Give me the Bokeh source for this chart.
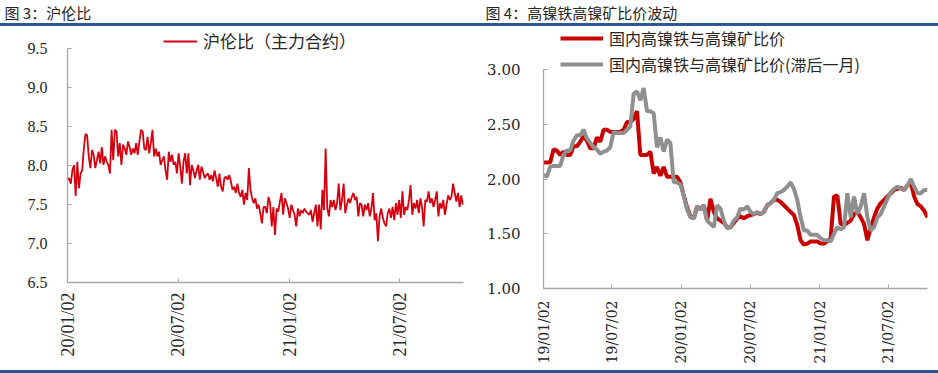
import pandas as pd
from bokeh.plotting import figure
from bokeh.layouts import column, row
from bokeh.models import (Legend, LegendItem, FixedTicker, DatetimeTickFormatter,
                          NumeralTickFormatter, Label, Range1d, Spacer)
from bokeh.embed import file_html
from bokeh.resources import INLINE

# ---------------- data ----------------
left_title = "图 3：沪伦比"
right_title = "图 4：高镍铁高镍矿比价波动"
left_series_name = "沪伦比（主力合约）"
right_series_names = ["国内高镍铁与高镍矿比价", "国内高镍铁与高镍矿比价(滞后一月)"]

left_start, left_end = "2020-01-02", "2021-10-14"
left_axis_start, left_axis_end = "2020-01-02", "2021-10-15"
left_ticks = ["2020-01-02", "2020-07-02", "2021-01-02", "2021-07-02"]
left_y_ticks = [6.5, 7.0, 7.5, 8.0, 8.5, 9.0, 9.5]

shfe_lme_ratio = [
    7.82, 7.84, 7.77, 7.94, 8.01, 7.61, 8.05, 7.71, 7.90, 7.94, 8.22, 8.41, 8.39, 8.12, 7.97,
    8.20, 8.14, 7.97, 8.07, 8.18, 8.03, 8.24, 8.01, 8.12, 8.05, 8.01, 7.90, 8.46, 8.07, 8.46,
    8.44, 8.12, 8.29, 8.01, 8.27, 8.22, 8.14, 8.31, 8.24, 8.14, 8.22, 8.16, 8.29, 8.14, 8.31,
    8.46, 8.44, 8.22, 8.20, 8.37, 8.16, 8.29, 8.46, 8.12, 8.22, 8.12, 8.18, 8.01, 8.07, 8.12,
    7.94, 7.82, 8.18, 8.05, 8.14, 8.01, 8.05, 7.90, 8.16, 7.99, 7.77, 8.05, 8.16, 7.90, 8.16,
    7.75, 8.01, 7.94, 7.84, 7.94, 8.01, 7.82, 7.99, 7.92, 7.84, 7.88, 7.90, 7.82, 7.88, 7.80,
    7.94, 7.84, 7.73, 7.90, 7.73, 7.67, 7.84, 7.86, 7.82, 7.88, 7.80, 7.69, 7.73, 7.65, 7.77,
    7.65, 7.60, 7.69, 7.50, 7.65, 7.56, 7.97, 7.69, 7.58, 7.52, 7.58, 7.45, 7.50, 7.39, 7.26,
    7.47,
    7.47, 7.39, 7.60, 7.52, 7.22, 7.47, 7.11, 7.45, 7.41, 7.54, 7.65, 7.37, 7.58, 7.52, 7.45,
    7.33, 7.50, 7.43, 7.37, 7.22, 7.45, 7.35, 7.43, 7.39, 7.45, 7.41, 7.39, 7.37, 7.43, 7.28,
    7.39, 7.50, 7.22, 7.50, 7.18, 7.69, 7.43, 8.22, 7.45, 7.35, 7.56, 7.47, 7.56, 7.43, 7.52,
    7.77, 7.43, 7.56, 7.77, 7.39, 7.50, 7.58, 7.52, 7.60, 7.65, 7.56, 7.60, 7.35, 7.52, 7.50,
    7.35, 7.50, 7.43, 7.52, 7.35, 7.45, 7.65, 7.30, 7.39, 7.03, 7.35, 7.45, 7.33, 7.26, 7.22,
    7.39, 7.45, 7.33, 7.47, 7.30, 7.52, 7.37, 7.56, 7.33, 7.67, 7.37, 7.47, 7.43, 7.56, 7.75,
    7.37, 7.52, 7.45, 7.56, 7.39, 7.58, 7.47, 7.22, 7.56, 7.54, 7.67, 7.52, 7.58, 7.47, 7.56,
    7.67, 7.35, 7.52, 7.45, 7.56, 7.37, 7.50, 7.62, 7.56, 7.60, 7.77, 7.65, 7.54, 7.65, 7.47,
    7.62, 7.50,
]

right_start, right_end = "2019-01-02", "2021-10-14"
right_axis_start, right_axis_end = "2019-01-02", "2021-10-14"
right_ticks = ["2019-01-02", "2019-07-02", "2020-01-02", "2020-07-02", "2021-01-02", "2021-07-02"]
right_y_ticks = [1.0, 1.5, 2.0, 2.5, 3.0]

npi_ore_ratio = [
    2.15, 2.15, 2.15, 2.27, 2.26, 2.22, 2.25, 2.22, 2.22, 2.30,
    2.30, 2.34, 2.39, 2.35, 2.28, 2.28, 2.38, 2.34, 2.45, 2.45,
    2.43, 2.43, 2.43, 2.43, 2.45, 2.52, 2.52, 2.55, 2.62, 2.22,
    2.22, 2.22, 2.25, 2.05, 2.11, 2.03, 2.11, 2.02, 2.02, 2.02,
    2.02, 1.97, 1.85, 1.74, 1.66, 1.64, 1.75, 1.72, 1.76, 1.62,
    1.82, 1.70, 1.64, 1.62, 1.60, 1.56, 1.56, 1.60, 1.64, 1.66,
    1.64, 1.66, 1.67, 1.68, 1.69, 1.68, 1.70, 1.76, 1.78, 1.81,
    1.81, 1.79, 1.76, 1.73, 1.70, 1.67, 1.58, 1.44, 1.40,
    1.41, 1.43, 1.43, 1.43, 1.41, 1.41, 1.43, 1.46, 1.84, 1.85,
    1.59, 1.58, 1.60, 1.62, 1.68, 1.70, 1.65, 1.59, 1.44, 1.56,
    1.65, 1.73, 1.78, 1.81, 1.84, 1.87, 1.90, 1.91, 1.92, 1.90,
    1.94, 1.97, 1.84, 1.77, 1.75, 1.71, 1.65,
]
npi_ore_ratio_lag = [
    2.04, 2.02, 2.11, 2.12, 2.12, 2.12, 2.22, 2.26, 2.26, 2.35,
    2.40, 2.40, 2.45, 2.37, 2.33, 2.29, 2.27, 2.23, 2.25, 2.26,
    2.29, 2.43, 2.42, 2.42, 2.42, 2.45, 2.48, 2.78, 2.80, 2.72,
    2.83, 2.62, 2.62, 2.60, 2.29, 2.38, 2.25, 2.36, 2.33, 1.97,
    1.97, 1.95, 1.85, 1.72, 1.65, 1.64, 1.75, 1.72, 1.76, 1.62,
    1.59, 1.56, 1.76, 1.73, 1.62, 1.55, 1.56, 1.62, 1.65, 1.73,
    1.72, 1.75, 1.70, 1.68, 1.70, 1.68, 1.70, 1.76, 1.78, 1.81,
    1.87, 1.88, 1.90, 1.93, 1.97, 1.91, 1.81, 1.65, 1.53,
    1.53, 1.49, 1.49, 1.49, 1.46, 1.44, 1.44, 1.43, 1.50, 1.56,
    1.54, 1.56, 1.87, 1.65, 1.84, 1.68, 1.75, 1.87, 1.65, 1.53,
    1.56, 1.65, 1.68, 1.75, 1.82, 1.88, 1.91, 1.93, 1.91, 1.90,
    1.94, 2.00, 1.93, 1.87, 1.87, 1.90, 1.90,
]

# ---------------- style ----------------
BLUE = "#2f5597"
RED_L = "#d7000f"
RED_R = "#c80000"
GRAY = "#8f8f8f"
AXIS = "#a6a6a6"
TXT = "#262626"
CJK = "Noto Sans CJK SC"

W_L, W_R = 470, 468
H_TITLE, H_RULE, H_PLOT = 23, 3, 344
FMT = "%y/%m/%d"


def ms(d):
    return pd.Timestamp(d).value / 1e6


def title_fig(w, text, x):
    t = figure(width=w, height=H_TITLE, x_axis_type=None, y_axis_type=None, title=None,
               x_range=Range1d(0, 1), y_range=Range1d(0, 1), min_border=0,
               output_backend="svg", toolbar_location=None)
    t.outline_line_color = None
    t.grid.visible = False
    t.add_layout(Label(x=x, y=11.5, x_units="screen", y_units="screen", text=text,
                       text_font=CJK, text_font_size="15px", text_color=TXT,
                       text_baseline="middle"))
    return t


def rule(w):
    return Spacer(width=w, height=H_RULE, styles={"background-color": BLUE})


def plot_fig(w, xs, xe, ys, ye, bounds, mbl, mbr, mbb):
    p = figure(width=w, height=H_PLOT, x_axis_type="datetime", title=None,
               x_range=Range1d(pd.Timestamp(xs), pd.Timestamp(xe)),
               y_range=Range1d(ys, ye),
               min_border_left=mbl, min_border_right=mbr,
               min_border_top=0, min_border_bottom=mbb,
               output_backend="svg", toolbar_location=None)
    p.frame_align = False
    p.outline_line_color = None
    p.grid.visible = False
    for ax in (p.xaxis[0], p.yaxis[0]):
        ax.axis_line_color = AXIS
        ax.axis_line_width = 1.3
        ax.major_tick_line_color = AXIS
        ax.major_tick_in = 4
        ax.major_tick_out = 0
        ax.minor_tick_line_color = None
        ax.major_label_text_color = TXT
    p.yaxis.bounds = bounds
    p.xaxis.formatter = DatetimeTickFormatter(
        days=FMT, months=FMT, years=FMT, hours=FMT, hourmin=FMT, minutes=FMT,
        minsec=FMT, seconds=FMT, milliseconds=FMT, microseconds=FMT)
    p.xaxis.major_label_orientation = 1.5708
    return p


def make_legend(items, loc, glyph_w, spacing, size):
    return Legend(items=items, location=loc, border_line_color=None,
                  background_fill_alpha=0, padding=0, margin=0, spacing=spacing,
                  glyph_width=glyph_w, glyph_height=24, label_height=24,
                  label_standoff=6, label_text_font=CJK, label_text_font_size=size,
                  label_text_color=TXT)


# ---------------- left chart ----------------
pL = plot_fig(W_L, left_axis_start, left_axis_end, 6.5, 9.788, (6.5, 9.5), 67, 7, 88)
xL = pd.date_range(left_start, left_end, periods=len(shfe_lme_ratio))
rL = pL.line(xL, shfe_lme_ratio, line_color=RED_L, line_width=1.8)
pL.xaxis.ticker = FixedTicker(ticks=[ms(d) for d in left_ticks])
pL.xaxis.major_label_text_font = "Liberation Serif"
pL.xaxis.major_label_text_font_size = "18px"
pL.xaxis.major_label_standoff = 10
pL.yaxis.ticker = FixedTicker(ticks=left_y_ticks)
pL.yaxis.formatter = NumeralTickFormatter(format="0.0")
pL.yaxis.major_label_text_font = "Liberation Serif"
pL.yaxis.major_label_text_font_size = "16px"
pL.yaxis.major_label_standoff = 20
pL.add_layout(make_legend([LegendItem(label=left_series_name, renderers=[rL])],
                          (96, 229), 34, 0, "17px"))

# ---------------- right chart ----------------
pR = plot_fig(W_R, right_axis_start, right_axis_end, 1.0, 3.393, (1.0, 3.0), 73, 11, 82)
xR = pd.date_range(right_start, right_end, periods=len(npi_ore_ratio))
r1 = pR.line(xR, npi_ore_ratio, line_color=RED_R, line_width=4)
r2 = pR.line(xR, npi_ore_ratio_lag, line_color=GRAY, line_width=4)
pR.xaxis.ticker = FixedTicker(ticks=[ms(d) for d in right_ticks])
pR.xaxis.major_label_text_font = "DejaVu Serif"
pR.xaxis.major_label_text_font_size = "14px"
pR.xaxis.major_label_standoff = 12
pR.yaxis.ticker = FixedTicker(ticks=right_y_ticks)
pR.yaxis.formatter = NumeralTickFormatter(format="0.00")
pR.yaxis.major_label_text_font = "DejaVu Serif"
pR.yaxis.major_label_text_font_size = "15px"
pR.yaxis.major_label_standoff = 23
pR.add_layout(make_legend([LegendItem(label=right_series_names[0], renderers=[r1]),
                           LegendItem(label=right_series_names[1], renderers=[r2])],
                          (17, 212), 43, 2, "16px"))

layout = column(row(title_fig(W_L, left_title, 4), title_fig(W_R, right_title, 15)),
                rule(W_L + W_R),
                row(pL, pR),
                rule(W_L + W_R))

open("out.html", "w").write(file_html(layout, INLINE))
